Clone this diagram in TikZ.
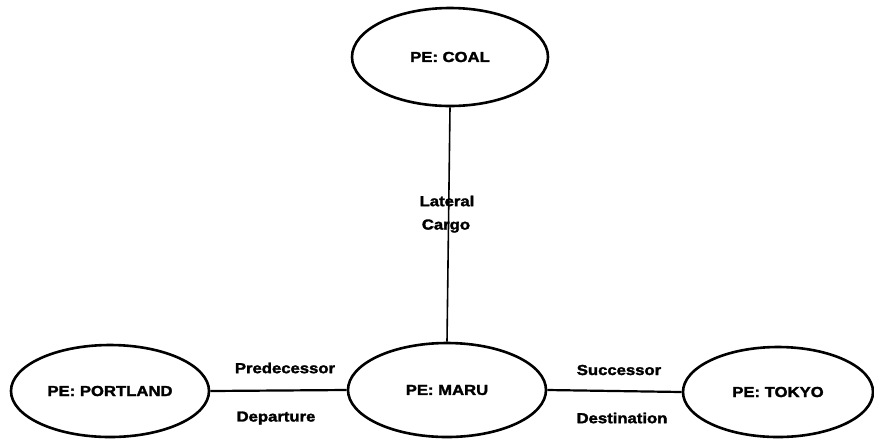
\documentclass[tikz,border=0pt]{standalone}
\usepackage{fontspec}
\usetikzlibrary{shapes.geometric}
\newfontfamily\labelfont[FakeStretch=1.15,FakeBold=2]{Liberation Sans Bold}
\begin{document}
\begin{tikzpicture}[x=1pt,y=-1pt,
  entity/.style={draw, ellipse, line width=2.6pt, inner sep=0pt,
    font=\labelfont\fontsize{14.5}{16}\selectfont},
  rel/.style={line width=2.2pt},
  tag/.style={inner sep=0pt, font=\labelfont\fontsize{14.5}{16}\selectfont}]
  \useasboundingbox (0,0) rectangle (874,440);
  % entity nodes
  \node[entity, minimum width=196pt, minimum height=98pt] (coal) at (450,57) {PE: COAL};
  \node[entity, minimum width=198pt, minimum height=92pt] (portland) at (110,391) {PE: PORTLAND};
  \node[entity, minimum width=198pt, minimum height=94pt] (maru) at (447,390) {PE: MARU};
  \node[entity, minimum width=190pt, minimum height=90pt] (tokyo) at (778,392) {PE: TOKYO};
  % relations
  \draw[line width=1.6pt] (coal.south) -- (maru.north);
  \draw[rel] (portland.east) -- (maru.west);
  \draw[rel] (maru.east) -- (tokyo.west);
  % relation labels
  \node[tag] (lat) at (447,201) {Lateral};
  \node[tag] (cargo) at (446,226) {Cargo};
  \node[tag] (pred) at (285,368) {Predecessor};
  \node[tag] (dep) at (276,418) {Departure};
  \node[tag] (succ) at (619,370) {Successor};
  \node[tag] (dest) at (622,418) {Destination};
\end{tikzpicture}
\end{document}
